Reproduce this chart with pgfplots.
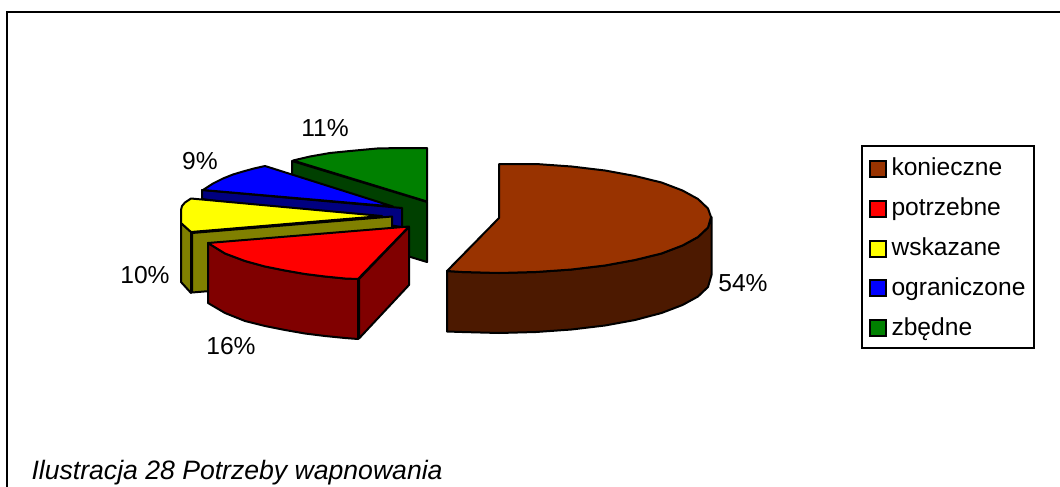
\documentclass[border=0pt]{standalone}
\usepackage{fontspec}
\setmainfont{Liberation Sans}
\usepackage{pgfplots}
\pgfplotsset{compat=1.18}
\definecolor{konieczne}{HTML}{993300}
\definecolor{koniecznebok}{HTML}{4C1900}
\definecolor{potrzebne}{HTML}{FF0000}
\definecolor{potrzebnebok}{HTML}{800000}
\definecolor{wskazane}{HTML}{FFFF00}
\definecolor{wskazanebok}{HTML}{808000}
\definecolor{ograniczone}{HTML}{0000FF}
\definecolor{ograniczonebok}{HTML}{000080}
\definecolor{zbedne}{HTML}{008000}
\definecolor{zbednebok}{HTML}{004000}
\newcommand{\pct}[1]{\fontsize{24.6}{28}\selectfont #1}
\pgfplotsset{
  slice/.style={draw=black, line width=2pt, line join=round, fill=#1, forget plot},
  swatch/.style={draw=black, line width=2pt, fill=#1, area legend,
    legend image code/.code={\draw[#1, line width=2pt, draw=black, fill=#1] (0pt,-9.5pt) rectangle (16pt,6.5pt);}},
}

\begin{document}
\begin{tikzpicture}
  \path[use as bounding box] (0,0) rectangle (1060pt,487pt);
  \begin{axis}[
      at={(0,0)}, anchor=south west,
      width=1060pt, height=487pt, scale only axis,
      xmin=0, xmax=1060, ymin=0, ymax=487, y dir=reverse,
      hide axis, clip=false,
      legend cell align=left,
      legend style={at={(axis cs:861,145)}, anchor=north west,
        draw=black, line width=2pt, font=\fontsize{24.6}{28}\selectfont,
        inner xsep=6.5pt, inner ysep=9.5pt,
        row sep=16.6pt,
        /tikz/every odd column/.append style={column sep=3pt}},
    ]
    % legend order differs from the drawing order (back slices first)
    \addlegendimage{swatch=konieczne}\addlegendentry{konieczne}
    \addlegendimage{swatch=potrzebne}\addlegendentry{potrzebne}
    \addlegendimage{swatch=wskazane}\addlegendentry{wskazane}
    \addlegendimage{swatch=ograniczone}\addlegendentry{ograniczone}
    \addlegendimage{swatch=zbedne}\addlegendentry{zbędne}

    % frame
    \addplot[black, line width=1.5pt, forget plot] coordinates {(7,487) (7,12) (1060,12)};

    % zbedne 11%
    \addplot[slice=zbednebok] coordinates {(292,161) (427,202) (427,262) (292,221)} -- cycle;
    \addplot[slice=zbedne] coordinates {(293,160.5) (310,156.5) (330,153) (350,151) (377,148.5) (400,148) (427,148) (427,201.5)} -- cycle;

    % ograniczone 9%
    \addplot[slice=ograniczonebok] coordinates {(202,190) (202,199) (402,227) (402,208)} -- cycle;
    \addplot[slice=ograniczone] coordinates {(203,190) (213,183.5) (223,178.5) (233,174.5) (243,171.5) (254,168.5) (265,166) (393,206.5)} -- cycle;

    % wskazane 10%
    \addplot[slice=wskazanebok] coordinates {(192,233) (392,216.5) (392,276) (192,292.5)} -- cycle;
    \addplot[slice=wskazanebok] coordinates {(181,223) (191,232) (191,293) (181,282)} -- cycle;
    \addplot[slice=wskazane] coordinates {(181,210) (182,206) (185,202.5) (191,198.5) (382,216) (191,232) (181,223)} -- cycle;

    % potrzebne 16%
    \addplot[slice=potrzebnebok] coordinates {(359,279) (409,227) (409,285) (359,338.5)} -- cycle;
    \addplot[slice=potrzebnebok] coordinates {(208,243) (225,253.5) (245,261) (265,266.5) (285,270.5) (305,274) (325,276.5) (345,278.5) (358,279)
      (358,339) (345,338) (325,336) (305,333.5) (285,330) (265,326) (245,321) (225,313) (208,303)} -- cycle;
    \addplot[slice=potrzebne] coordinates {(208,243) (409,226.5) (358,279) (345,278.5) (325,276.5) (305,274) (285,270.5) (265,266.5) (245,261) (225,253.5)} -- cycle;

    % konieczne 54%
    \addplot[slice=koniecznebok] coordinates {(447,271) (462,272) (499,273) (536,272) (571.5,269.5) (605,265.5) (635,260) (661.5,253.5)
      (682.5,245.5) (698,237) (708,227.5) (711.5,217) (711.5,275) (708,287) (698,296.5) (682.5,305) (661.5,313) (635,320)
      (605,325.5) (571.5,329.5) (536,332) (499,333) (462,332) (447,331.5)} -- cycle;
    \addplot[slice=konieczne] coordinates {(499,164) (536,164) (571.5,166.5) (605,170.5) (635,176) (661.5,182.5) (682.5,190.5)
      (698,199) (708,208.5) (711,217) (708,227.5) (698,237) (682.5,245.5) (661.5,253.5) (635,260) (605,265.5)
      (571.5,269.5) (536,272) (499,273) (462,272) (447,271) (499,218)} -- cycle;

    % percentage labels
    \node at (axis cs:325,128) {\pct{11\%}};
    \node at (axis cs:200,161) {\pct{9\%}};
    \node at (axis cs:145,275) {\pct{10\%}};
    \node at (axis cs:231,346) {\pct{16\%}};
    \node at (axis cs:743,283) {\pct{54\%}};

    % caption
    \node[anchor=base west, font=\itshape] at (axis cs:28,479) {\fontsize{26.6}{30}\selectfont Ilustracja 28 Potrzeby wapnowania};
  \end{axis}
\end{tikzpicture}
\end{document}
